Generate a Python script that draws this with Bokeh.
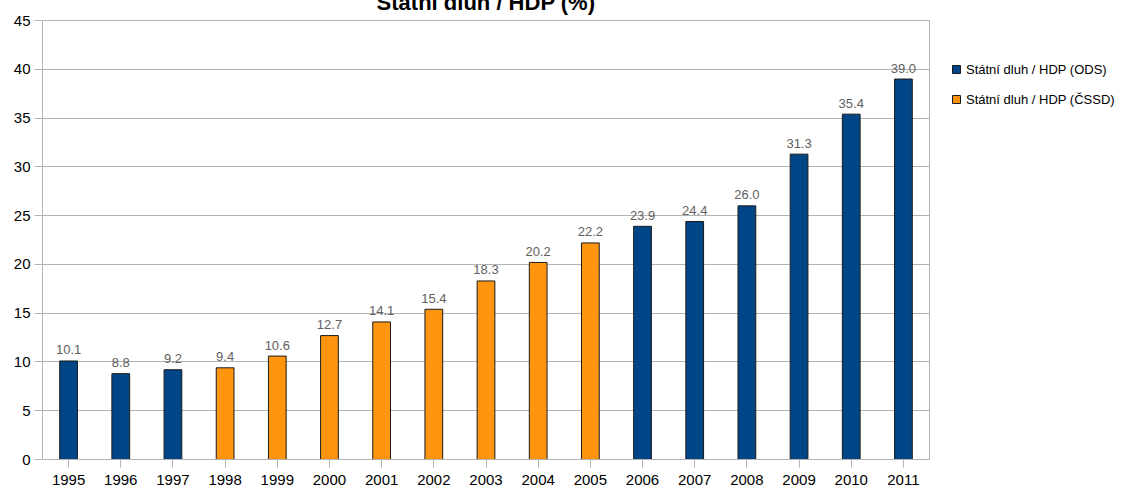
from bokeh.plotting import figure
from bokeh.models import ColumnDataSource, FactorRange, Range1d, Legend, LegendItem, SingleIntervalTicker
from bokeh.embed import file_html
from bokeh.resources import INLINE

years = ["1995", "1996", "1997", "1998", "1999", "2000", "2001", "2002", "2003",
         "2004", "2005", "2006", "2007", "2008", "2009", "2010", "2011"]
debt = [10.1, 8.8, 9.2, 9.4, 10.6, 12.7, 14.1, 15.4, 18.3, 20.2, 22.2,
        23.9, 24.4, 26.0, 31.3, 35.4, 39.0]
party = ["ODS", "ODS", "ODS", "CSSD", "CSSD", "CSSD", "CSSD", "CSSD", "CSSD",
         "CSSD", "CSSD", "ODS", "ODS", "ODS", "ODS", "ODS", "ODS"]
series_names = {"ODS": "Státní dluh / HDP (ODS)", "CSSD": "Státní dluh / HDP (ČSSD)"}
colors = {"ODS": "#004586", "CSSD": "#ff950e"}
title_text = "Státní dluh / HDP (%)"

FONT = "Liberation Sans"

p = figure(x_range=FactorRange(*years, range_padding=0), y_range=Range1d(0, 45),
           frame_width=887, frame_height=439, output_backend="svg", toolbar_location=None,
           min_border_top=40, min_border_left=42, min_border_right=188, min_border_bottom=27)
# the reference shows the title partly cut off at the top edge
p.styles = {"margin-top": "-20px", "margin-bottom": "-20px"}

p.title.text = title_text
p.title.align = "center"
p.title.text_font = FONT
p.title.text_font_size = "22px"
p.title.text_font_style = "bold"
p.title.text_color = "#000000"
p.title.text_line_height = 0.3
p.title.standoff = 11
p.title.vertical_align = "bottom"

renderers = {}
for key in ["ODS", "CSSD"]:
    idx = [i for i, pt in enumerate(party) if pt == key]
    src = ColumnDataSource(dict(x=[years[i] for i in idx], top=[debt[i] for i in idx]))
    renderers[key] = p.vbar(x="x", top="top", width=0.34, source=src,
                            fill_color=colors[key], line_color="#1a1a1a", line_width=1)

lab_src = ColumnDataSource(dict(x=years, y=debt, t=["%.1f" % v for v in debt]))
p.text(x="x", y="y", text="t", source=lab_src, text_align="center", text_baseline="alphabetic",
       y_offset=-11, text_font_size="13px", text_color="#606060", text_font={"value": FONT})

legend = Legend(items=[LegendItem(label=series_names[k], renderers=[renderers[k]]) for k in ["ODS", "CSSD"]],
                location=(22, 350), glyph_width=10, glyph_height=10, label_height=20,
                label_standoff=5, spacing=10, padding=0, margin=0,
                border_line_color=None, background_fill_alpha=0,
                label_text_font=FONT, label_text_font_size="13px", label_text_color="#000000")
p.add_layout(legend, "right")

p.yaxis.ticker = SingleIntervalTicker(interval=5)
for ax in [p.xaxis[0], p.yaxis[0]]:
    ax.axis_line_color = "#b3b3b3"
    ax.major_tick_line_color = "#b3b3b3"
    ax.minor_tick_line_color = None
    ax.major_tick_in = 0
    ax.major_tick_out = 8
    ax.major_label_text_font = FONT
    ax.major_label_text_font_size = "15px"
    ax.major_label_text_color = "#000000"
p.yaxis.major_label_standoff = 4
p.xaxis.major_label_standoff = 7
p.xgrid.grid_line_color = None
p.ygrid.grid_line_color = "#b3b3b3"
p.outline_line_color = "#b3b3b3"
p.background_fill_color = "white"
p.border_fill_color = "white"

open("out.html", "w").write(file_html(p, INLINE))
